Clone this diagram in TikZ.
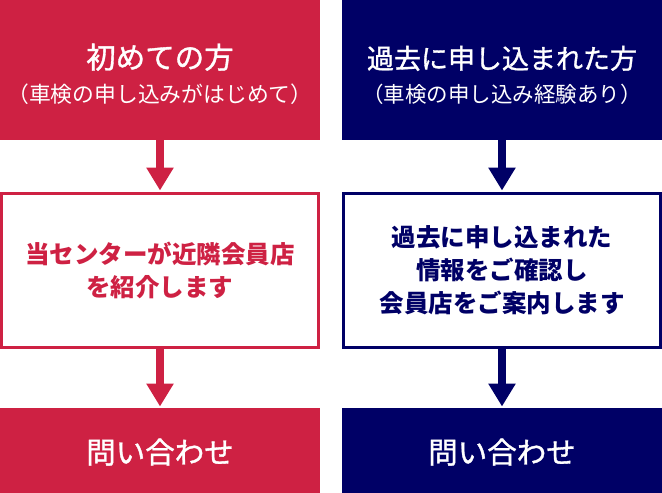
\documentclass[tikz,border=0pt]{standalone}
\usepackage{fontspec}
\usetikzlibrary{arrows.meta}
\newfontfamily\jp{Noto Sans CJK JP}
\newfontfamily\jpm[FakeBold=1.2]{Noto Sans CJK JP}
\definecolor{cred}{RGB}{206,33,67}
\definecolor{cnavy}{RGB}{0,0,102}
\tikzset{
  solidbox/.style={fill=#1, draw=none, text=white, minimum width=320pt, inner sep=0pt, outer sep=0pt, align=center, font=\jpm},
  linebox/.style={draw=#1, line width=3pt, fill=white, text=#1, minimum width=317pt, minimum height=154pt, inner sep=0pt, outer sep=1.5pt, align=center, font=\jp\bfseries\fontsize{24.5}{33}\selectfont},
  flowarrow/.style={draw=#1, line width=7.5pt, -{Triangle[width=26pt,length=23pt]}, shorten >=1.5pt}
}
\begin{document}
\begin{tikzpicture}[x=1pt,y=-1pt]
\useasboundingbox (0,0) rectangle (662,493);
% left column
\node[solidbox=cred, minimum height=140pt] (tl) at (160,70)
  {{\rule{0pt}{33pt}\fontsize{29.5}{32}\selectfont 初めての方}\\[12pt]{\jp\fontsize{21.8}{24}\selectfont （車検の申し込みがはじめて）}};
\node[linebox=cred] (ml) at (160,270.5) {当センターが近隣会員店\\を紹介します};
\node[solidbox=cred, minimum height=85pt, font=\jpm\fontsize{29.5}{32}\selectfont] (bl) at (160,450.5) {\rule{0pt}{28pt}問い合わせ};
% right column
\node[solidbox=cnavy, minimum height=140pt] (tr) at (502,70)
  {{\rule{0pt}{33pt}\fontsize{27}{32}\selectfont 過去に申し込まれた方}\\[12pt]{\jp\fontsize{21.5}{24}\selectfont （車検の申し込み経験あり）}};
\node[linebox=cnavy] (mr) at (502,270.5) {過去に申し込まれた\\情報をご確認し\\会員店をご案内します};
\node[solidbox=cnavy, minimum height=85pt, font=\jpm\fontsize{29.5}{32}\selectfont] (br) at (502,450.5) {\rule{0pt}{28pt}問い合わせ};
% arrows
\draw[flowarrow=cred] (tl) -- (ml);
\draw[flowarrow=cred] (ml) -- (bl);
\draw[flowarrow=cnavy] (tr) -- (mr);
\draw[flowarrow=cnavy] (mr) -- (br);
\end{tikzpicture}
\end{document}
